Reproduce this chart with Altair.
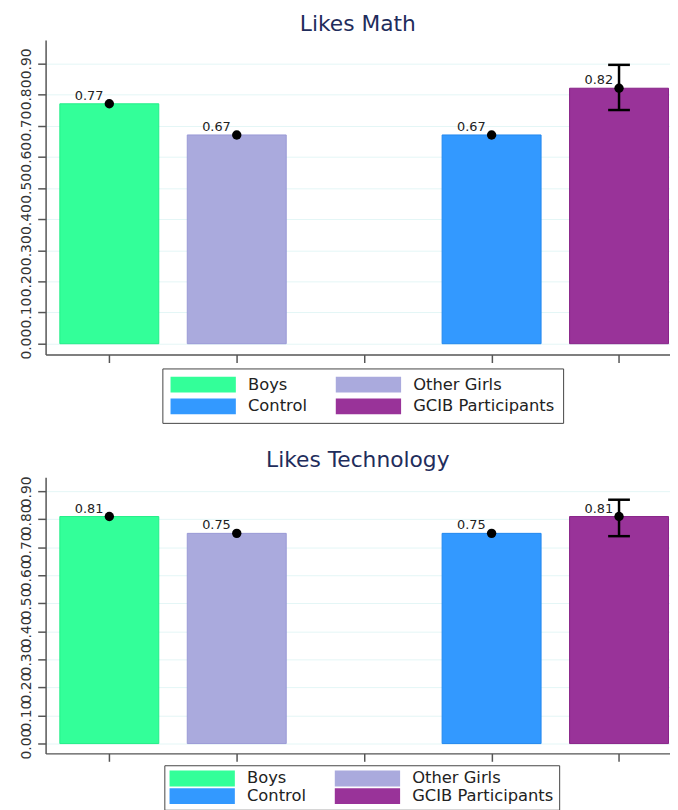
import altair as alt
import pandas as pd

groups = ["Boys", "Other Girls", "Control", "GCIB Participants"]
legend_order = ["Boys", "Control", "Other Girls", "GCIB Participants"]
slots = [1, 2, 4, 5]
colors = {"Boys": "#33ff99", "Other Girls": "#aaaadd", "Control": "#3399ff", "GCIB Participants": "#993399"}
strokes = {"Boys": "#22ee88", "Other Girls": "#9999d6", "Control": "#2288ee", "GCIB Participants": "#882288"}

math_means = [0.77, 0.67, 0.67, 0.82]
math_lo = [0.77, 0.67, 0.67, 0.75]
math_hi = [0.77, 0.67, 0.67, 0.895]

tech_means = [0.81, 0.75, 0.75, 0.81]
tech_lo = [0.81, 0.75, 0.75, 0.74]
tech_hi = [0.81, 0.75, 0.75, 0.87]

y_ticks = [0.0, 0.1, 0.2, 0.3, 0.4, 0.5, 0.6, 0.7, 0.8, 0.9]
x_ticks = [1, 2, 3, 4, 5]

FONT = "DejaVu Sans"


def panel(title, means, lo, hi, height, ymax, legend_x, legend_y, leg_pad, leg_row_pad):
    df = pd.DataFrame({
        "group": groups,
        "slot": slots,
        "mean": means,
        "lo": lo,
        "hi": hi,
        "label": [f"{m:.2f}" for m in means],
    })
    xscale = alt.Scale(domain=[0.5, 5.40], nice=False, zero=False, padding=0)
    xaxis = alt.Axis(values=x_ticks, labels=False, title=None, grid=False,
                     tickSize=8, tickColor="#555", tickWidth=1.5,
                     domainColor="#555", domainWidth=1.5)
    yscale = alt.Scale(domain=[-0.035, ymax], nice=False, zero=False)
    yaxis = alt.Axis(values=y_ticks, format=".2f", title=None,
                     labelAngle=270, labelAlign="center", labelBaseline="bottom",
                     labelOverlap=False, labelFontSize=14, labelFont=FONT,
                     labelColor="#333", labelPadding=4,
                     tickSize=8, tickColor="#555", tickWidth=1.5,
                     domainColor="#555", domainWidth=1.5,
                     grid=True, gridColor="#e4f6f6", gridWidth=1)

    def X(field="slot"):
        return alt.X(f"{field}:Q", scale=xscale, axis=xaxis)

    def Y(field):
        return alt.Y(f"{field}:Q", scale=yscale, axis=yaxis)

    base = alt.Chart(df)
    bars = base.mark_bar(size=100, orient="vertical", strokeWidth=1).encode(
        x=X(), y=Y("mean"), y2=alt.datum(0),
        color=alt.Color("group:N",
                        scale=alt.Scale(domain=legend_order, range=[colors[g] for g in legend_order]),
                        legend=alt.Legend(orient="none", legendX=legend_x, legendY=legend_y,
                                          columns=2, title=None,
                                          symbolType="M-1,-1H7.25V1H-1Z",
                                          symbolSize=256, symbolStrokeWidth=0,
                                          symbolOpacity=1,
                                          labelFontSize=16.5, labelFont=FONT,
                                          labelColor="#222", labelOffset=62,
                                          columnPadding=28, rowPadding=leg_row_pad,
                                          strokeColor="#444", fillColor="white",
                                          padding=leg_pad)),
        stroke=alt.Stroke("group:N",
                          scale=alt.Scale(domain=legend_order, range=[strokes[g] for g in legend_order]),
                          legend=None),
    )
    ci = base.transform_filter("datum.hi - datum.lo > 0.02")
    rule = ci.mark_rule(color="black", strokeWidth=2.5).encode(
        x=X(), y=Y("lo"), y2="hi:Q")
    cap_hi = ci.mark_rule(color="black", strokeWidth=2.5, xOffset=-11, x2Offset=11).encode(
        x=X(), x2="slot:Q", y=Y("hi"))
    cap_lo = ci.mark_rule(color="black", strokeWidth=2.5, xOffset=-11, x2Offset=11).encode(
        x=X(), x2="slot:Q", y=Y("lo"))
    pts = base.mark_point(filled=True, size=90, color="black", opacity=1).encode(
        x=X(), y=Y("mean"))
    txt = base.mark_text(align="right", baseline="alphabetic", dx=-6, dy=-4,
                         fontSize=13, font=FONT, color="#222").encode(
        x=X(), y=Y("mean"), text="label:N")
    return alt.layer(bars, rule, cap_hi, cap_lo, pts, txt).properties(
        width=631, height=height,
        title=alt.TitleParams(title, fontSize=22, font=FONT, color="#1f2d5c",
                              fontWeight="normal", anchor="middle", offset=4),
    )


p1 = panel("Likes Math", math_means, math_lo, math_hi, 318, 0.975, 118, 332, 8, 5)
p2 = panel("Likes Technology", tech_means, tech_lo, tech_hi, 279, 0.95, 120, 291, 5, 1)

chart = alt.vconcat(p1, p2, spacing=25).resolve_scale(
    color="independent", stroke="independent"
).properties(
    padding={"left": 11, "top": 1, "right": 0, "bottom": 0}
).configure_view(stroke=None)

chart.save("out.html", embed_options={"renderer": "svg", "actions": False})
